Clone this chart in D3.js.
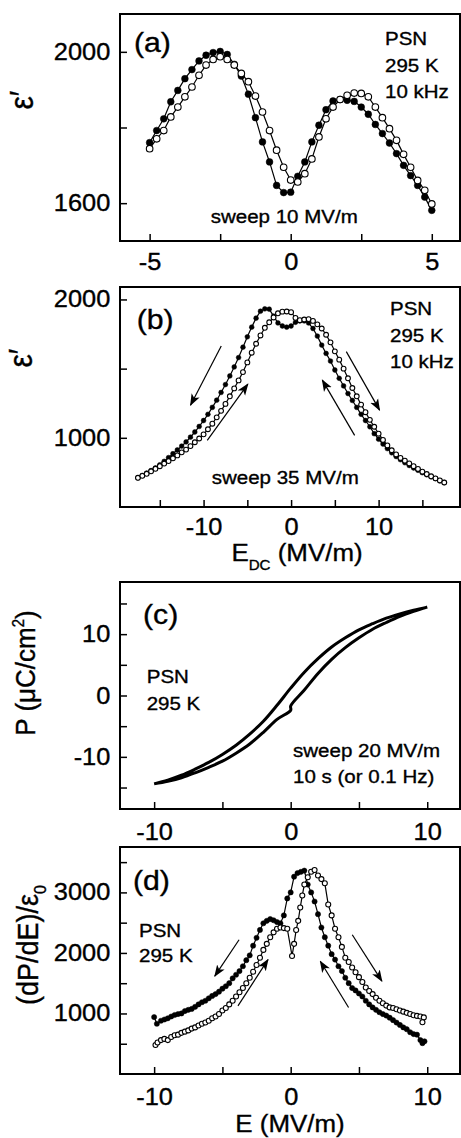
<!DOCTYPE html>
<html>
<head>
<meta charset="utf-8">
<script src="https://cdn.jsdelivr.net/npm/d3@7"></script>
<style>
  body { margin: 0; background: #fff; }
  svg { display: block; }
  text { font-family: 'Liberation Sans', Arial, sans-serif; fill: #000; stroke: #000; stroke-width: 0.35px; }
</style>
</head>
<body>
<svg width="461" height="1138"></svg>
<script>
// ---- panel (a): eps' vs E, sweep 10 MV/m
const aE = [-5, -4.75, -4.5, -4.25, -4, -3.75, -3.5, -3.25, -3, -2.75, -2.5, -2.25, -2, -1.75, -1.5, -1.25, -1, -0.75, -0.5, -0.25,
    0, 0.25, 0.5, 0.75, 1, 1.25, 1.5, 1.75, 2, 2.25, 2.5, 2.75, 3, 3.25, 3.5, 3.75, 4, 4.25, 4.5, 4.75, 5];
const aFilled = [1760, 1792, 1823, 1868, 1898, 1929, 1953, 1976, 1991, 1998, 2001, 1993, 1967, 1936, 1888, 1826, 1762, 1709, 1647, 1628,
    1629, 1671, 1709, 1762, 1806, 1847, 1870, 1874, 1872, 1869, 1854, 1835, 1808, 1784, 1759, 1731, 1700, 1673, 1647, 1616, 1581];
const aOpen = [1744, 1770, 1792, 1828, 1854, 1881, 1907, 1938, 1965, 1980, 1987, 1980, 1965, 1943, 1921, 1883, 1841, 1792, 1740, 1695,
    1661, 1656, 1678, 1717, 1775, 1823, 1854, 1874, 1885, 1891, 1890, 1881, 1854, 1826, 1797, 1766, 1729, 1695, 1660, 1634, 1598];

// ---- panel (b): eps' vs E_DC, sweep 35 MV/m
const bE = [-17.5, -17, -16.5, -16, -15.5, -15, -14.5, -14, -13.5, -13, -12.5, -12, -11.5, -11, -10.5, -10, -9.5, -9, -8.5, -8,
    -7.5, -7, -6.5, -6, -5.5, -5, -4.5, -4, -3.5, -3, -2.5, -2, -1.5, -1, -0.5, 0, 0.5, 1, 1.5, 2, 2.5, 3, 3.5, 4, 4.5, 5,
    5.5, 6, 6.5, 7, 7.5, 8, 8.5, 9, 9.5, 10, 10.5, 11, 11.5, 12, 12.5, 13, 13.5, 14, 14.5, 15, 15.5, 16, 16.5, 17, 17.5];
const bFilled = [711, 728, 745, 763, 782, 805, 830, 857, 885, 912, 940, 970, 1005, 1042, 1082, 1125, 1170, 1220, 1272, 1328,
    1385, 1447, 1512, 1580, 1655, 1730, 1800, 1865, 1915, 1932, 1930, 1880, 1830, 1808, 1800, 1808, 1835, 1845, 1845, 1830,
    1790, 1735, 1670, 1610, 1555, 1490, 1430, 1375, 1320, 1270, 1220, 1170, 1125, 1080, 1030, 990, 955, 922, 892, 865,
    842, 820, 800, 782, 765, 748, 733, 718, 705, 690, 677];
const bOpen = [711, 725, 740, 758, 776, 795, 814, 832, 852, 873, 895, 915, 940, 968, 995, 1025, 1062, 1102, 1148, 1195,
    1245, 1300, 1357, 1415, 1475, 1545, 1615, 1680, 1740, 1795, 1835, 1870, 1900, 1912, 1913, 1908, 1867, 1850, 1855, 1858,
    1845, 1820, 1790, 1745, 1690, 1625, 1565, 1500, 1430, 1360, 1300, 1240, 1185, 1130, 1080, 1030, 985, 945, 910, 880,
    855, 835, 815, 795, 775, 755, 738, 722, 707, 692, 677];

// ---- panel (c): P-E loop, 0.1 Hz
const cUpE = [-10, -9, -8, -7, -6, -5, -4, -3, -2, -1, 0, 1, 2, 3, 4, 5, 6, 7, 8, 9, 10];
const cUpP = [-14.4, -13.8, -13.0, -12.0, -10.9, -9.6, -8.1, -6.3, -4.2, -1.6, 1.2, 3.8, 6.0, 7.9, 9.4, 10.7, 11.7, 12.6, 13.3, 13.9, 14.4];
const cLowE = [-10, -9, -8, -7, -6, -5, -4, -3, -2, -1, 0, 0, 1, 2, 3, 4, 5, 6, 7, 8, 9, 10];
const cLowP = [-14.4, -14.0, -13.4, -12.6, -11.7, -10.7, -9.4, -7.9, -6.0, -3.9, -2.4, -1.7, 0.9, 3.6, 5.9, 7.8, 9.4, 10.8, 11.9, 12.9, 13.7, 14.4];

// ---- panel (d): (dP/dE)/eps0
const dFilledE = [-10, -9.8, -9.5, -9.25, -9, -8.75, -8.5, -8.25, -8, -7.75, -7.5, -7.25, -7, -6.75, -6.5, -6.25, -6, -5.75, -5.5, -5.25,
    -5, -4.75, -4.5, -4.25, -4, -3.75, -3.5, -3.25, -3, -2.75, -2.5, -2.25, -2, -1.75, -1.5, -1.25, -1, -0.75, -0.5, -0.25,
    0, 0.25, 0.5, 0.75, 1, 1.25, 1.5, 1.75, 2, 2.25, 2.5, 2.75, 3, 3.25, 3.5, 3.75, 4, 4.25, 4.5, 4.75,
    5, 5.25, 5.5, 5.75, 6, 6.25, 6.5, 6.75, 7, 7.25, 7.5, 7.75, 8, 8.25, 8.5, 8.75, 9, 9.25, 9.5, 9.65, 9.8];
const dFilledV = [940, 830, 880, 900, 920, 950, 975, 990, 1000, 1040, 1060, 1075, 1110, 1150, 1185, 1210, 1250, 1290, 1320, 1360,
    1410, 1450, 1500, 1580, 1640, 1700, 1780, 1880, 1960, 2120, 2250, 2380, 2490, 2530, 2560, 2540, 2510, 2490, 2620, 2900,
    3000, 3260, 3320, 3340, 3360, 3130, 3000, 2850, 2640, 2420, 2260, 2120, 1980, 1890, 1780, 1700, 1590, 1500, 1420, 1380,
    1330, 1280, 1210, 1150, 1100, 1060, 1020, 990, 965, 930, 890, 850, 810, 770, 740, 690, 660, 650, 560, 510, 540];
const dOpenE = [-9.9, -9.75, -9.5, -9.25, -9, -8.75, -8.5, -8.25, -8, -7.75, -7.5, -7.25, -7, -6.75, -6.5, -6.25, -6, -5.75, -5.5, -5.25,
    -5, -4.75, -4.5, -4.25, -4, -3.75, -3.5, -3.25, -3, -2.75, -2.5, -2.25, -2, -1.75, -1.5, -1.25, -1, -0.75, -0.5, -0.25,
    0.1, 0.25, 0.4, 0.55, 0.7, 0.85, 1, 1.25, 1.5, 1.75, 2, 2.25, 2.5, 2.75, 3, 3.25, 3.5, 3.75, 4, 4.25, 4.5, 4.75,
    5, 5.25, 5.5, 5.75, 6, 6.25, 6.5, 6.75, 7, 7.25, 7.5, 7.75, 8, 8.25, 8.5, 8.75, 9, 9.25, 9.5, 9.75, 9.65];
const dOpenV = [480, 520, 560, 580, 560, 610, 640, 650, 680, 700, 720, 750, 770, 800, 830, 850, 880, 920, 950, 990,
    1050, 1090, 1150, 1210, 1280, 1350, 1420, 1500, 1590, 1690, 1800, 1920, 2050, 2150, 2260, 2340, 2400, 2420, 2410, 2400,
    1950, 2150, 2380, 2530, 2750, 2950, 3130, 3250, 3340, 3370, 3280, 3220, 3150, 2800, 2620, 2400, 2260, 2100, 1920, 1850, 1760, 1680,
    1600, 1520, 1430, 1370, 1320, 1260, 1210, 1170, 1130, 1100, 1090, 1070, 1050, 1030, 1010, 990, 970, 960, 950, 935, 855];

// sweep arrows [x1, y1, x2, y2] in data units
const bArrows = [[-7.98, 1664, -11.49, 1236], [-9.58, 982, -4.94, 1388], [7.26, 1018, 3.57, 1417], [6.31, 1623, 10.11, 1200]];
const dArrows = [[-3.78, 2218, -5.56, 1616], [-3.86, 1125, -1.66, 1890], [4.24, 1098, 2.17, 1862], [4.51, 2300, 6.68, 1534]];

// ticks
const aXTicks = [-5, -2.5, 0, 2.5, 5], aXLabels = [-5, 0, 5];
const aYTicks = [1600, 1800, 2000], aYLabels = [1600, 2000];
const bXTicks = [-15, -10, -5, 0, 5, 10, 15], bXLabels = [-10, 0, 10];
const bYTicks = [1000, 1500, 2000], bYLabels = [1000, 2000];
const cXTicks = [-10, -5, 0, 5, 10], cXLabels = [-10, 0, 10];
const cYTicks = [-15, -10, -5, 0, 5, 10, 15], cYLabels = [-10, 0, 10];
const dXTicks = [-10, -5, 0, 5, 10], dXLabels = [-10, 0, 10];
const dYTicks = [500, 1000, 1500, 2000, 2500, 3000, 3500], dYLabels = [1000, 2000, 3000];

const L = 120, R = 460;
const SX = 'scale(1.08,1)';
const svg = d3.select('svg');

svg.append('defs').append('marker')
    .attr('id', 'ah')
    .attr('viewBox', '0 -5 12 10')
    .attr('refX', 11).attr('refY', 0)
    .attr('markerWidth', 12).attr('markerHeight', 10)
    .attr('markerUnits', 'userSpaceOnUse')
    .attr('orient', 'auto')
    .append('path')
    .attr('d', 'M0,-4.5L12,0L0,4.5L3,0Z')
    .attr('fill', '#000');

const makePanel = (xDom, yDom, top, bottom, xT, xL, yT, yL, xPad) => {
    const x = d3.scaleLinear().domain(xDom).range([L, R]);
    const y = d3.scaleLinear().domain(yDom).range([bottom, top]);
    const g = svg.append('g');

    const ax = g.append('g')
        .attr('transform', `translate(0,${bottom})`)
        .call(d3.axisBottom(x).tickValues(xT)
            .tickFormat((d) => (xL.includes(d) ? String(d) : ''))
            .tickSizeInner(-7).tickSizeOuter(0).tickPadding(xPad));
    const ay = g.append('g')
        .attr('transform', `translate(${L},0)`)
        .call(d3.axisLeft(y).tickValues(yT)
            .tickFormat((d) => (yL.includes(d) ? String(d) : ''))
            .tickSizeInner(-7).tickSizeOuter(0).tickPadding(9));
    [ax, ay].forEach((a) => {
        a.attr('font-size', null).attr('font-family', null);
        a.select('.domain').remove();
        a.selectAll('line').attr('stroke', '#000').attr('stroke-width', 1.5);
        a.selectAll('text').attr('font-size', 23.5).attr('transform', SX);
    });

    g.append('rect')
        .attr('x', L).attr('y', top)
        .attr('width', R - L).attr('height', bottom - top)
        .attr('fill', 'none').attr('stroke', '#000').attr('stroke-width', 2);
    return { g, x, y };
};

const series = (P, xs, ys, filled, r) => {
    const pts = xs.map((e, i) => [e, ys[i]]);
    P.g.append('path')
        .datum(pts)
        .attr('d', d3.line().x((d) => P.x(d[0])).y((d) => P.y(d[1])))
        .attr('fill', 'none')
        .attr('stroke', '#000')
        .attr('stroke-width', 1.2);
    P.g.append('g')
        .selectAll('circle')
        .data(pts)
        .join('circle')
        .attr('cx', (d) => P.x(d[0]))
        .attr('cy', (d) => P.y(d[1]))
        .attr('r', r)
        .attr('fill', filled ? '#000' : '#fff')
        .attr('stroke', '#000')
        .attr('stroke-width', filled ? 0.5 : 1.1);
};

const arrows = (P, list) => {
    P.g.append('g')
        .selectAll('line')
        .data(list)
        .join('line')
        .attr('x1', (d) => P.x(d[0])).attr('y1', (d) => P.y(d[1]))
        .attr('x2', (d) => P.x(d[2])).attr('y2', (d) => P.y(d[3]))
        .attr('stroke', '#000').attr('stroke-width', 1.2)
        .attr('marker-end', 'url(#ah)');
};

const txt = (x, y, s, size, anchor) =>
    svg.append('text')
        .attr('transform', `translate(${x},${y}) ${SX}`)
        .attr('font-size', size)
        .attr('text-anchor', anchor || 'start')
        .text(s);

const ylab = (x, y, size) =>
    svg.append('text')
        .attr('transform', `translate(${x},${y}) rotate(-90) scale(1,1.08)`)
        .attr('font-size', size)
        .attr('text-anchor', 'middle');

// (a)
const pa = makePanel([-6.05, 6.0], [1500, 2100], 14, 241, aXTicks, aXLabels, aYTicks, aYLabels, 12.5);
series(pa, aE, aFilled, true, 3.4);
series(pa, aE, aOpen, false, 3.3);
txt(134, 52, '(a)', 28);
txt(385, 45, 'PSN', 19);
txt(385, 71.7, '295 K', 19);
txt(385, 98.3, '10 kHz', 19);
txt(210.7, 223, 'sweep 10 MV/m', 19);
ylab(33, 100, 30).text('ε′');

// (b)
const pb = makePanel([-19.55, 19.3], [500, 2090], 287, 507, bXTicks, bXLabels, bYTicks, bYLabels, 11.3);
series(pb, bE, bFilled, true, 2.4);
series(pb, bE, bOpen, false, 2.4);
arrows(pb, bArrows);
txt(136.7, 329, '(b)', 28);
txt(390, 315, 'PSN', 19);
txt(390, 342, '295 K', 19);
txt(390, 368, '10 kHz', 19);
txt(211.7, 484, 'sweep 35 MV/m', 19);
ylab(32, 358, 30).text('ε′');
{
    const t = txt(297, 561, '', 24, 'middle');
    t.append('tspan').text('E');
    t.append('tspan').attr('font-size', 14).attr('dy', 9).text('DC');
    t.append('tspan').attr('dy', -9).text(' (MV/m)');
}

// (c)
const pc = makePanel([-12.5, 12.4], [-18.5, 18.5], 582, 809, cXTicks, cXLabels, cYTicks, cYLabels, 14.3);
{
    const loop = cLowE.map((e, i) => [e, cLowP[i]])
        .concat(cUpE.map((e, i) => [e, cUpP[i]]).reverse());
    pc.g.append('path')
        .datum(loop)
        .attr('d', d3.line().x((d) => pc.x(d[0])).y((d) => pc.y(d[1])).curve(d3.curveCatmullRom.alpha(0.5)))
        .attr('fill', 'none')
        .attr('stroke', '#000')
        .attr('stroke-width', 3);
}
txt(143, 624, '(c)', 28);
txt(146.7, 683, 'PSN', 19);
txt(146.7, 710, '295 K', 19);
txt(293, 757, 'sweep 20 MV/m', 19);
txt(293, 783, '10 s (or 0.1 Hz)', 19);
{
    const t = ylab(35, 673, 26);
    t.append('tspan').text('P (μC/cm');
    t.append('tspan').attr('font-size', 15).attr('dy', -10).text('2');
    t.append('tspan').attr('dy', 10).text(')');
}

// (d)
const pd = makePanel([-12.5, 12.4], [0, 3750], 847, 1074, dXTicks, dXLabels, dYTicks, dYLabels, 14.3);
series(pd, dFilledE, dFilledV, true, 2.6);
series(pd, dOpenE, dOpenV, false, 2.5);
arrows(pd, dArrows);
txt(133, 890, '(d)', 28);
txt(139, 937, 'PSN', 19);
txt(139, 962, '295 K', 19);
{
    const t = ylab(38, 945, 27);
    t.append('tspan').text('(dP/dE)/ε');
    t.append('tspan').attr('font-size', 16).attr('dy', 7).text('0');
}
txt(290, 1132, 'E (MV/m)', 24, 'middle');
</script>
</body>
</html>
